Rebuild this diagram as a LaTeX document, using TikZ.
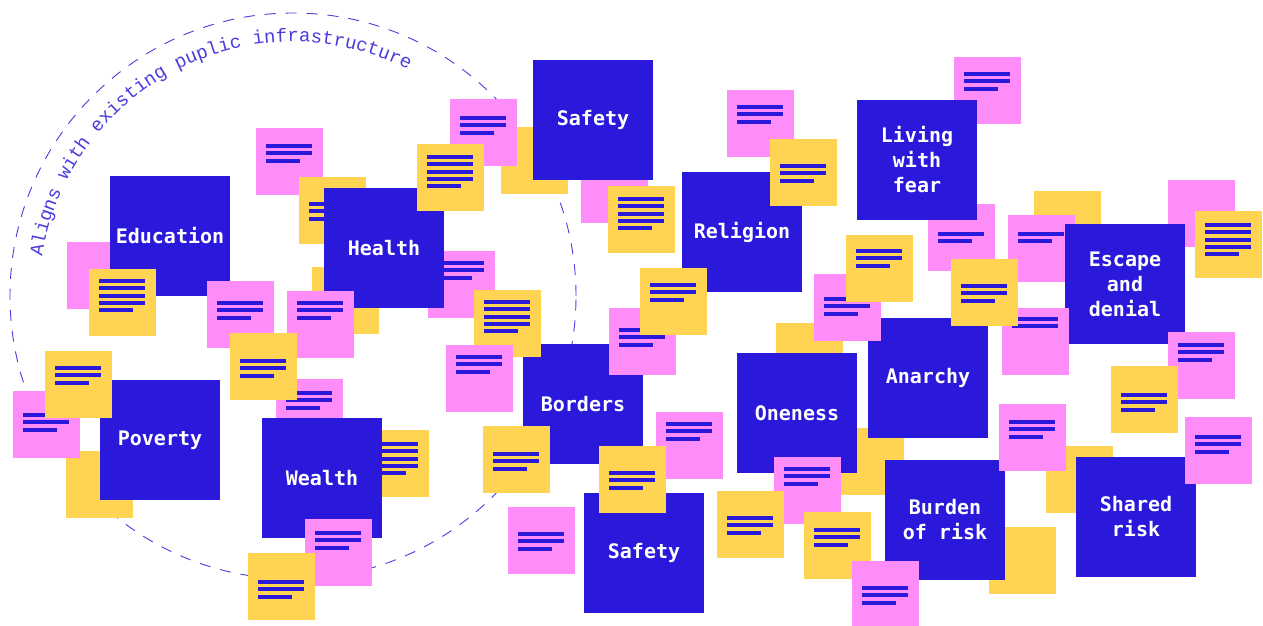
\documentclass[tikz,border=0pt]{standalone}
\usepackage{fontspec}
\usetikzlibrary{decorations.text}
\newfontfamily\labelfont{DejaVu Sans Mono}
\newfontfamily\arcfont{Liberation Mono}

\definecolor{ink}{HTML}{2B19DB}
\definecolor{notepink}{HTML}{FF8DF9}
\definecolor{noteyellow}{HTML}{FFD452}
\definecolor{ring}{HTML}{4B3CE0}

\tikzset{
  topic/.style={fill=ink, minimum width=120pt, minimum height=120pt,
    inner sep=0pt, outer sep=0pt, anchor=north west, text=white, align=center,
    font=\labelfont\bfseries\fontsize{20}{25}\selectfont},
  sticky/.style={minimum width=67pt, minimum height=67pt, inner sep=0pt,
    outer sep=0pt, anchor=north west},
  pinknote/.style={sticky, fill=notepink},
  yellownote/.style={sticky, fill=noteyellow},
  bar/.style={fill=ink},
  ringline/.style={draw=ring, line width=0.9pt, dash pattern=on 11pt off 10pt},
}

% sticky note: name, x, y (from top), style, first bar offset, bar count, last bar length
\newcommand\postit[7]{%
  \node[#4] (#1) at (#2,-#3) {};
  \ifnum#6>0
    \foreach \i in {1,...,#6}{
      \pgfmathsetmacro\len{\i==#6 ? #7 : 46}
      \fill[bar] ([shift={(10,{-#5-7.3*(\i-1)})}]#1.north west) rectangle ++(\len,-4);
    }
  \fi
}

\begin{document}
\begin{tikzpicture}[x=1pt,y=1pt]
\useasboundingbox (0,0) rectangle (1263,-626);
\fill[white] (0,0) rectangle (1263,-626);

% dashed boundary with its caption
\draw[ringline] (293,-296) circle[radius=283];
\path[decorate, decoration={text along path, text color=ring,
    text={|\arcfont\fontsize{19}{21}\selectfont|Aligns with existing puplic infrastructure},
    text align=left}]
  (293,-296) ++(171:254) arc[start angle=171, end angle=45, radius=254];

% left cluster
\postit{p1}{256}{128}{pinknote}{16}{3}{34}
\postit{y1}{299}{177}{yellownote}{25}{3}{34}
\postit{y2}{312}{267}{yellownote}{0}{0}{0}
\postit{p2}{428}{251}{pinknote}{10}{3}{34}
\node[topic] (health) at (324,-188) {Health};
\postit{p3}{67}{242}{pinknote}{0}{0}{0}
\node[topic] (education) at (110,-176) {Education};
\postit{y3}{89}{269}{yellownote}{10}{5}{34}
\postit{p4}{207}{281}{pinknote}{20}{3}{34}
\postit{p5}{287}{291}{pinknote}{10}{3}{34}
\postit{p6}{276}{379}{pinknote}{12}{3}{34}
\postit{y4}{230}{333}{yellownote}{26}{3}{34}
\postit{y5}{362}{430}{yellownote}{12}{5}{34}
\node[topic] (wealth) at (262,-418) {Wealth};
\postit{p7}{305}{519}{pinknote}{12}{3}{34}
\postit{y6}{248}{553}{yellownote}{27}{3}{34}
\postit{y7}{66}{451}{yellownote}{0}{0}{0}
\node[topic] (poverty) at (100,-380) {Poverty};
\postit{p8}{13}{391}{pinknote}{22}{3}{34}
\postit{y8}{45}{351}{yellownote}{15}{3}{34}

% middle cluster
\postit{y9}{501}{127}{yellownote}{0}{0}{0}
\postit{p9}{450}{99}{pinknote}{17}{3}{34}
\postit{y10}{417}{144}{yellownote}{11}{5}{34}
\postit{p10}{581}{156}{pinknote}{0}{0}{0}
\node[topic] (safetyA) at (533,-60) {Safety};
\postit{y11}{608}{186}{yellownote}{11}{5}{34}
\node[topic] (religion) at (682,-172) {Religion};
\postit{p11}{727}{90}{pinknote}{15}{3}{34}
\postit{y12}{770}{139}{yellownote}{25}{3}{34}
\node[topic] (borders) at (523,-344) {Borders};
\postit{y13}{474}{290}{yellownote}{10}{5}{34}
\postit{p12}{446}{345}{pinknote}{10}{3}{34}
\postit{p13}{609}{308}{pinknote}{20}{3}{34}
\postit{y14}{640}{268}{yellownote}{15}{3}{34}
\postit{y15}{483}{426}{yellownote}{26}{3}{34}
\postit{p14}{508}{507}{pinknote}{25}{3}{34}
\postit{p15}{656}{412}{pinknote}{10}{3}{34}
\node[topic] (safetyB) at (584,-493) {Safety};
\postit{y16}{599}{446}{yellownote}{25}{3}{34}

% centre-right cluster
\postit{y17}{837}{428}{yellownote}{0}{0}{0}
\postit{y18}{776}{323}{yellownote}{0}{0}{0}
\node[topic] (oneness) at (737,-353) {Oneness};
\postit{p16}{774}{457}{pinknote}{10}{3}{34}
\postit{y19}{717}{491}{yellownote}{25}{3}{34}
\postit{y20}{804}{512}{yellownote}{16}{3}{34}
\node[topic] (anarchy) at (868,-318) {Anarchy};
\postit{p17}{814}{274}{pinknote}{23}{3}{34}
\postit{y21}{846}{235}{yellownote}{14}{3}{34}

% right cluster
\postit{p18}{954}{57}{pinknote}{15}{3}{34}
\postit{p19}{928}{204}{pinknote}{28}{2}{34}
\node[topic] (fear) at (857,-100) {Living\\with\\fear};
\postit{y22}{1034}{191}{yellownote}{0}{0}{0}
\postit{p20}{1008}{215}{pinknote}{17}{2}{34}
\postit{p21}{1168}{180}{pinknote}{0}{0}{0}
\node[topic] (escape) at (1065,-224) {Escape\\and\\denial};
\postit{p22}{1002}{308}{pinknote}{9}{2}{46}
\postit{y23}{951}{259}{yellownote}{25}{3}{34}
\postit{y24}{1195}{211}{yellownote}{12}{5}{34}
\postit{p23}{1168}{332}{pinknote}{11}{3}{34}
\postit{y25}{1111}{366}{yellownote}{27}{3}{34}
\postit{y26}{989}{527}{yellownote}{0}{0}{0}
\postit{y27}{1046}{446}{yellownote}{0}{0}{0}
\node[topic] (burden) at (885,-460) {Burden\\of risk};
\postit{p24}{999}{404}{pinknote}{16}{3}{34}
\node[topic] (shared) at (1076,-457) {Shared\\risk};
\postit{p25}{1185}{417}{pinknote}{18}{3}{34}
\postit{p26}{852}{561}{pinknote}{25}{3}{34}
\end{tikzpicture}
\end{document}
